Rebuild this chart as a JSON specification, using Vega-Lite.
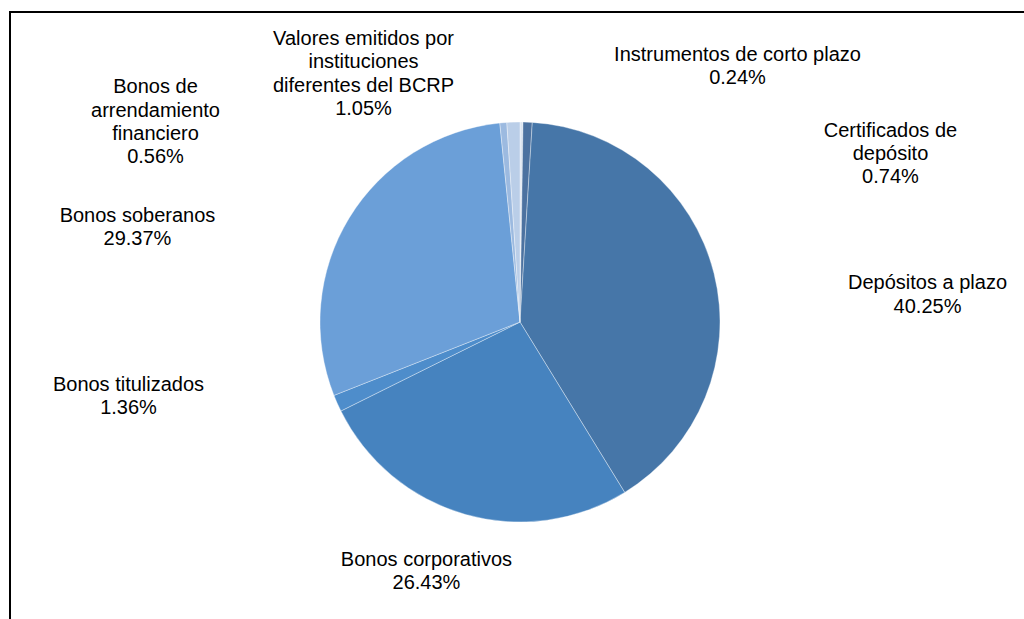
{
  "$schema": "https://vega.github.io/schema/vega-lite/v6.json",
  "autosize": {"type": "none"},
  "width": 1020,
  "height": 620,
  "padding": {"left": 10, "top": 12, "right": -6, "bottom": -13},
  "background": "#ffffff",
  "config": {"view": {"stroke": "#000000", "strokeWidth": 2}},
  "data": {
    "values": [
      {"n": 1, "nombre": "Instrumentos de corto plazo", "pct": 0.24},
      {"n": 2, "nombre": "Certificados de\ndepósito", "pct": 0.74},
      {"n": 3, "nombre": "Depósitos a plazo", "pct": 40.25},
      {"n": 4, "nombre": "Bonos corporativos", "pct": 26.43},
      {"n": 5, "nombre": "Bonos titulizados", "pct": 1.36},
      {"n": 6, "nombre": "Bonos soberanos", "pct": 29.37},
      {"n": 7, "nombre": "Bonos de\narrendamiento\nfinanciero", "pct": 0.56},
      {"n": 8, "nombre": "Valores emitidos por\ninstituciones\ndiferentes del BCRP", "pct": 1.05}
    ]
  },
  "transform": [
    {"calculate": "datum.nombre + '\\n' + format(datum.pct, '.2f') + '%'", "as": "label"}
  ],
  "layer": [
    {
      "mark": {"type": "point", "opacity": 0},
      "encoding": {
        "x": {"field": "n", "type": "quantitative", "axis": null},
        "y": {"field": "pct", "type": "quantitative", "axis": null}
      }
    },
    {
      "encoding": {
        "theta": {"field": "pct", "type": "quantitative", "stack": true},
        "order": {"field": "n", "type": "quantitative"}
      },
      "layer": [
        {
          "mark": {"type": "arc", "radius": 200, "stroke": "#ffffff", "strokeWidth": 0.6, "strokeOpacity": 0.6},
          "encoding": {
            "color": {
              "field": "nombre",
              "type": "nominal",
              "sort": null,
              "legend": null,
              "scale": {
                "domain": ["Instrumentos de corto plazo", "Certificados de\ndepósito", "Depósitos a plazo", "Bonos corporativos", "Bonos titulizados", "Bonos soberanos", "Bonos de\narrendamiento\nfinanciero", "Valores emitidos por\ninstituciones\ndiferentes del BCRP"],
                "range": ["#DCE5F1", "#4C72A0", "#4676A8", "#4683BF", "#4E8DCB", "#6B9FD8", "#9CBAE0", "#BACEE8"]
              }
            }
          }
        },
        {
          "mark": {"type": "text", "radius": 200, "font": "Liberation Sans", "fontSize": 20, "lineHeight": 23.3, "align": "center", "baseline": "top", "lineBreak": "\n", "color": "#000000", "dx": 216, "dy": -77.5},
          "encoding": {"text": {"condition": {"test": "datum.n === 1", "field": "label"}, "value": ""}}
        },
        {
          "mark": {"type": "text", "radius": 200, "font": "Liberation Sans", "fontSize": 20, "lineHeight": 23.3, "align": "center", "baseline": "top", "lineBreak": "\n", "color": "#000000", "dx": 362.8, "dy": -1.6},
          "encoding": {"text": {"condition": {"test": "datum.n === 2", "field": "label"}, "value": ""}}
        },
        {
          "mark": {"type": "text", "radius": 200, "font": "Liberation Sans", "fontSize": 20, "lineHeight": 23.3, "align": "center", "baseline": "top", "lineBreak": "\n", "color": "#000000", "dx": 213.5, "dy": -0.2},
          "encoding": {"text": {"condition": {"test": "datum.n === 3", "field": "label"}, "value": ""}}
        },
        {
          "mark": {"type": "text", "radius": 200, "font": "Liberation Sans", "fontSize": 20, "lineHeight": 23.3, "align": "center", "baseline": "top", "lineBreak": "\n", "color": "#000000", "dx": -38.4, "dy": 35.8},
          "encoding": {"text": {"condition": {"test": "datum.n === 4", "field": "label"}, "value": ""}}
        },
        {
          "mark": {"type": "text", "radius": 200, "font": "Liberation Sans", "fontSize": 20, "lineHeight": 23.3, "align": "center", "baseline": "top", "lineBreak": "\n", "color": "#000000", "dx": -208.75, "dy": -28.25},
          "encoding": {"text": {"condition": {"test": "datum.n === 5", "field": "label"}, "value": ""}}
        },
        {
          "mark": {"type": "text", "radius": 200, "font": "Liberation Sans", "fontSize": 20, "lineHeight": 23.3, "align": "center", "baseline": "top", "lineBreak": "\n", "color": "#000000", "dx": -211.7, "dy": -12.3},
          "encoding": {"text": {"condition": {"test": "datum.n === 6", "field": "label"}, "value": ""}}
        },
        {
          "mark": {"type": "text", "radius": 200, "font": "Liberation Sans", "fontSize": 20, "lineHeight": 23.3, "align": "center", "baseline": "top", "lineBreak": "\n", "color": "#000000", "dx": -347.8, "dy": -45.4},
          "encoding": {"text": {"condition": {"test": "datum.n === 7", "field": "label"}, "value": ""}}
        },
        {
          "mark": {"type": "text", "radius": 200, "font": "Liberation Sans", "fontSize": 20, "lineHeight": 23.3, "align": "center", "baseline": "top", "lineBreak": "\n", "color": "#000000", "dx": -149.9, "dy": -93.1},
          "encoding": {"text": {"condition": {"test": "datum.n === 8", "field": "label"}, "value": ""}}
        }
      ]
    }
  ]
}
